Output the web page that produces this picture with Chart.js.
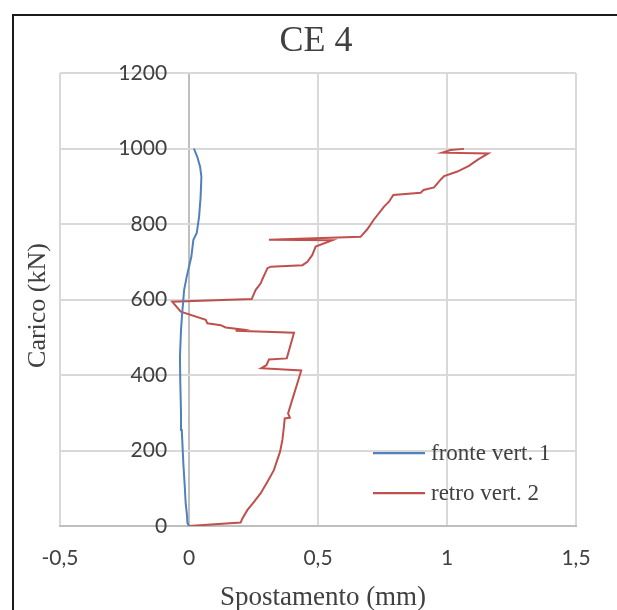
<!DOCTYPE html>
<html><head><meta charset="utf-8">
<script src="https://cdn.jsdelivr.net/npm/chart.js@4"></script>
<style>html,body{margin:0;padding:0;background:#fff;} canvas{display:block}</style>
</head><body>
<canvas id="c" width="617" height="610"></canvas>
<script>
const chartTitle = 'CE 4';
const xAxisTitle = 'Spostamento (mm)';
const yAxisTitle = 'Carico (kN)';
const seriesNames = ['fronte vert. 1', 'retro vert. 2'];
const xTickLabels = ['-0,5', '0', '0,5', '1', '1,5'];
const yTickLabels = ['0', '200', '400', '600', '800', '1000', '1200'];

const fronteLoad = [0, 8, 30, 61, 100, 167, 254, 300, 387, 450, 519, 568, 590, 625, 660, 687, 713, 758, 776, 819, 872, 925, 952, 978, 1000];
const fronteDisp = [0, -0.006, -0.008, -0.013, -0.016, -0.022, -0.028, -0.031, -0.034, -0.035, -0.031, -0.026, -0.023, -0.019, -0.009, 0, 0.009, 0.017, 0.030, 0.039, 0.045, 0.048, 0.043, 0.032, 0.019];

const retroLoad = [0, 9, 20, 42, 64, 87, 117, 148, 197, 228, 263, 285, 287, 298, 334, 378, 412, 418, 426, 441, 444, 512, 517, 520, 523, 526, 532, 537, 546, 568, 594, 601, 625, 643, 653, 683, 687, 691, 700, 718, 740, 757, 758, 766, 786, 812, 846, 859, 877, 883, 890, 897, 918, 927, 939, 954, 970, 987, 989, 996, 999];
const retroDisp = [0, 0.20, 0.207, 0.226, 0.252, 0.278, 0.304, 0.329, 0.353, 0.362, 0.368, 0.371, 0.391, 0.384, 0.40, 0.42, 0.435, 0.28, 0.30, 0.31, 0.379, 0.407, 0.181, 0.21, 0.175, 0.142, 0.123, 0.071, 0.065, -0.032, -0.065, 0.243, 0.258, 0.278, 0.284, 0.304, 0.317, 0.44, 0.459, 0.478, 0.491, 0.556, 0.31, 0.665, 0.691, 0.717, 0.756, 0.775, 0.792, 0.898, 0.909, 0.95, 0.976, 0.989, 1.04, 1.085, 1.118, 1.16, 0.982, 1.014, 1.066];

const colors = ['#4F81BD', '#C0504D'];
const toPoints = (xs, ys) => xs.map((x, i) => ({x: x, y: ys[i]}));

const deco = {
  id: 'deco',
  afterDraw(chart) {
    const c = chart.ctx;
    const a = chart.chartArea;
    c.save();
    c.strokeStyle = '#1a1a1a';
    c.lineWidth = 2;
    c.beginPath();
    c.moveTo(13, 640); c.lineTo(13, 15); c.lineTo(640, 15);
    c.stroke();
    c.fillStyle = '#404040';
    c.textAlign = 'center';
    c.textBaseline = 'middle';
    c.font = '36px "Liberation Serif"';
    c.fillText(chartTitle, 316, 42);
    c.font = '27px "Liberation Serif"';
    c.fillText(xAxisTitle, (a.left + a.right) / 2 + 5, 598);
    c.save();
    c.translate(38, (a.top + a.bottom) / 2 + 6);
    c.rotate(-Math.PI / 2);
    c.font = '26px "Liberation Serif"';
    c.fillText(yAxisTitle, 0, 0);
    c.restore();
    c.font = '23px "Liberation Serif"';
    c.textAlign = 'left';
    chart.data.datasets.forEach((ds, i) => {
      const y = 453 + i * 40;
      c.strokeStyle = ds.borderColor;
      c.lineWidth = 2.25;
      c.beginPath(); c.moveTo(373, y); c.lineTo(425, y); c.stroke();
      c.fillStyle = '#404040';
      c.fillText(ds.label, 431, y + 1);
    });
    c.restore();
  }
};

new Chart(document.getElementById('c'), {
  type: 'scatter',
  data: {
    datasets: [
      {label: seriesNames[0], data: toPoints(fronteDisp, fronteLoad), borderColor: colors[0], backgroundColor: colors[0], showLine: true, borderWidth: 2, pointRadius: 0, tension: 0},
      {label: seriesNames[1], data: toPoints(retroDisp, retroLoad), borderColor: colors[1], backgroundColor: colors[1], showLine: true, borderWidth: 2, pointRadius: 0, tension: 0}
    ]
  },
  options: {
    responsive: false,
    animation: false,
    layout: {padding: {left: 60, right: 41, top: 73, bottom: 84}},
    plugins: {legend: {display: false}, title: {display: false}, tooltip: {enabled: false}},
    scales: {
      x: {
        type: 'linear', min: -0.5, max: 1.5, position: {y: 0},
        ticks: {stepSize: 0.5, padding: 20, color: '#404040', font: {family: 'Lato', size: 21},
          callback: (v, i) => xTickLabels[i]},
        grid: {drawTicks: false, color: ctx => (ctx.tick && ctx.tick.value === 0) ? '#bfbfbf' : '#d9d9d9', lineWidth: 2},
        border: {display: true, color: '#bfbfbf', width: 2}
      },
      y: {
        type: 'linear', min: 0, max: 1200, position: {x: -0.085},
        ticks: {stepSize: 200, color: '#404040', font: {family: 'Lato', size: 21},
          callback: (v, i) => yTickLabels[i]},
        grid: {drawTicks: false, color: '#d9d9d9', lineWidth: 2},
        border: {display: false}
      }
    }
  },
  plugins: [deco]
});
</script>
</body></html>
